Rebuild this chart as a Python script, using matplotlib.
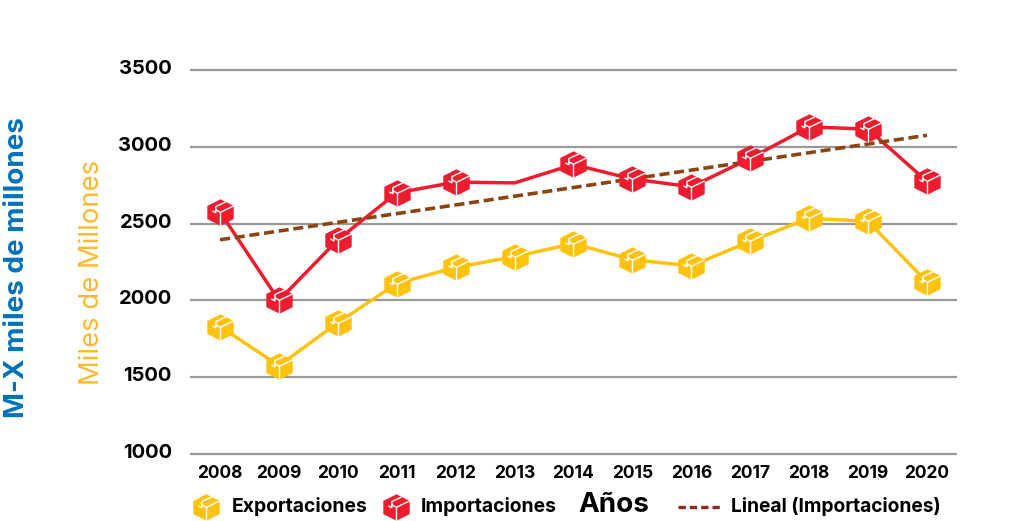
import matplotlib
matplotlib.use('Agg')
import matplotlib.pyplot as plt
from matplotlib.path import Path
from matplotlib.transforms import ScaledTranslation

years = [2008, 2009, 2010, 2011, 2012, 2013, 2014, 2015, 2016, 2017, 2018, 2019, 2020]
exportaciones = [1830, 1575, 1855, 2110, 2215, 2285, 2370, 2265, 2225, 2385, 2535, 2515, 2120]
importaciones = [2575, 2000, 2395, 2700, 2770, 2765, 2885, 2790, 2740, 2925, 3130, 3115, 2775]
importaciones_sin_caja = [2013]  # this point has no box in the original
trend_years = [2008, 2020]
trend_values = [2395, 3075]
y_ticks = [1000, 1500, 2000, 2500, 3000, 3500]

YELLOW = '#ffc20e'
RED = '#ed1c2e'
BROWN = '#8b4513'
FONT = 'Inter'

W, H = 1024, 521

# box icon, outline and the white creases on top of it
box = Path([(0, 1), (1, 0.5), (1, -0.5), (0, -1), (-1, -0.5), (-1, 0.5), (0, 1)], closed=True)
crease = Path([(-0.35, 0.2), (0, 0.02), (1, 0.5), (0, 0.02), (0, -1),
               (0.4, 0.8), (-0.35, 0.45), (-0.35, -0.02), (-0.62, 0.12)],
              [Path.MOVETO, Path.LINETO, Path.LINETO, Path.MOVETO, Path.LINETO,
               Path.MOVETO, Path.LINETO, Path.LINETO, Path.LINETO])


def draw_boxes(ax, x, y, color, size=19, **kw):
    ax.plot(x, y, ls='none', marker=box, ms=size, mfc=color, mec=color, mew=0, zorder=5, **kw)
    ax.plot(x, y, ls='none', marker=crease, ms=size, mfc='none', mec='white', mew=1.0, zorder=6, **kw)


fig = plt.figure(figsize=(W / 100, H / 100), dpi=100, facecolor='white')
ax = fig.add_axes([190 / W, 1 - 454 / H, 767 / W, 384 / H])
ax.set_xlim(2007.49, 2020.51)
ax.set_ylim(1000, 3500)

for s in ax.spines.values():
    s.set_visible(False)
ax.set_axisbelow(True)
ax.grid(axis='y', color='#999999', lw=1.6)
for g in ax.get_ygridlines():
    g.set_clip_on(False)
    g.set_solid_capstyle('butt')

ax.plot(years, exportaciones, color=YELLOW, lw=2.5, zorder=3)
ax.plot(years, importaciones, color=RED, lw=2.5, zorder=3)
ax.plot(trend_years, trend_values, color=BROWN, lw=2.6, ls=(0, (2.8, 1.3)), zorder=4)
draw_boxes(ax, years, exportaciones, YELLOW)
imp_x = [x for x in years if x not in importaciones_sin_caja]
imp_y = [v for x, v in zip(years, importaciones) if x not in importaciones_sin_caja]
draw_boxes(ax, imp_x, imp_y, RED)

ax.set_xticks(years)
ax.set_xticklabels([str(y) for y in years], fontsize=12.5, fontweight='bold', family=FONT, color='black')
ax.set_yticks(y_ticks)
ax.set_yticklabels([str(v) for v in y_ticks], fontsize=14.5, fontweight='bold', family=FONT, color='black')
ax.tick_params(axis='x', length=0, pad=8)
ax.tick_params(axis='y', length=0, pad=13)
# y labels sit slightly above their grid lines
for lab in ax.get_yticklabels():
    lab.set_transform(lab.get_transform() + ScaledTranslation(0, 3 / 100, fig.dpi_scale_trans))

fig.text(17 / W, 1 - 268 / H, 'M-X miles de millones', rotation=90, ha='center', va='center',
         color='#0072bc', fontsize=20, fontweight='bold', family=FONT)
fig.text(92 / W, 1 - 272 / H, 'Miles de Millones', rotation=90, ha='center', va='center',
         color='#fdb92e', fontsize=19.8, family=FONT)

# legend row, placed by hand like the original
leg = fig.add_axes([0, 0, 1, 1], facecolor='none')
leg.set_xlim(0, W)
leg.set_ylim(H, 0)
leg.axis('off')
draw_boxes(leg, [206], [507], YELLOW)
draw_boxes(leg, [396], [507], RED)
leg.plot([678, 722], [507, 507], color='#8a2a20', lw=2.4, ls=(0, (2.2, 1.2)))
leg.text(232, 506, 'Exportaciones', fontsize=13.9, fontweight='bold', family=FONT, va='center')
leg.text(421, 506, 'Importaciones', fontsize=13.9, fontweight='bold', family=FONT, va='center')
leg.text(578, 505, 'Años', fontsize=20, fontweight='bold', family=FONT, va='center')
leg.text(731, 506, 'Lineal (Importaciones)', fontsize=13.8, fontweight='bold', family=FONT, va='center')

fig.savefig('out.png', dpi=100)
